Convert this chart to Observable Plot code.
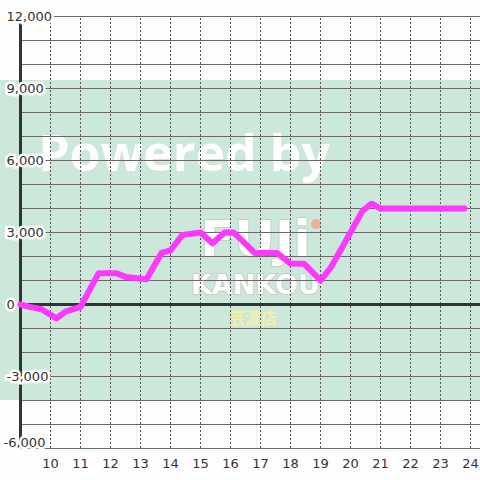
<!DOCTYPE html>
<html><head><meta charset="utf-8">
<script src="https://cdn.jsdelivr.net/npm/d3@7"></script>
<script src="https://cdn.jsdelivr.net/npm/@observablehq/plot@0.6"></script>
<style>body{margin:0;background:#fdfefd;} svg{display:block;}</style>
</head><body><div id="chart"></div>
<script>
const hours = [9.0, 9.3, 9.7, 10.2, 10.5, 11.0, 11.6, 12.2, 12.5, 13.2, 13.7, 14.0, 14.4, 15.0, 15.4, 15.8, 16.1, 16.4, 16.8, 17.55, 18.0, 18.45, 19.0, 19.35, 20.4, 20.7, 21.0, 23.8];
const values = [0, -100, -200, -580, -300, -100, 1300, 1300, 1150, 1050, 2150, 2250, 2900, 3000, 2550, 3000, 3000, 2650, 2150, 2150, 1700, 1700, 1000, 1550, 3900, 4200, 4000, 4000];
const xTicks = [10, 11, 12, 13, 14, 15, 16, 17, 18, 19, 20, 21, 22, 23, 24];
const yGrid = d3.range(-6000, 12001, 1000);
const yTicks = [12000, 9000, 6000, 3000, 0, -3000];
const yTickLabels = ["12,000", "9,000", "6,000", "3,000", "0", "-3,000"];
const yBottomTick = [-6000];
const yBottomLabel = ["-6,000"];
const band = [{x1: 8.333, x2: 24.333, y1: -4000, y2: 9333}];
const wmPowered = [{x: 14.45, y: 6250, text: "Powered by"}];
const wmFuji = [{x: 16.83, y: 2700, text: "FUJi"}];
const wmKankou = [{x: 16.83, y: 780, text: "KANKOU"}];
const wmStore = [{x: 16.75, y: -580, text: "芸濃店"}];
const ball = [{x: 18.85, y: 3350}];

const data = hours.map((h, i) => ({h, v: values[i]}));
const xMin = 9, xMax = 24.333;
const labelStyle = {textAnchor: "start", fontSize: 13, fill: "#333", stroke: "white", strokeWidth: 5, strokeLinejoin: "miter"};

const chart = Plot.plot({
  width: 480, height: 480,
  marginLeft: 20, marginRight: 0, marginTop: 16, marginBottom: 32,
  x: {domain: [xMin, xMax], axis: null},
  y: {domain: [-6000, 12000], axis: null},
  style: {fontFamily: "DejaVu Sans", background: "transparent"},
  marks: [
    Plot.rect(band, {x1: "x1", x2: "x2", y1: "y1", y2: "y2", fill: "#cce8da"}),
    Plot.text(wmPowered, {x: "x", y: "y", text: "text", fontSize: 50, fontWeight: "bold", fontFamily: "Open Sans", fill: "white", fillOpacity: 0.95}),
    Plot.text(wmFuji, {x: "x", y: "y", text: "text", fontSize: 50, fontWeight: "bold", fontFamily: "DejaVu Sans", fill: "white", stroke: "#c3cfca", strokeWidth: 2, paintOrder: "stroke"}),
    Plot.text(wmKankou, {x: "x", y: "y", text: "text", fontSize: 27, fontWeight: "bold", fontFamily: "DejaVu Sans", fill: "white", stroke: "#c3cfca", strokeWidth: 2, paintOrder: "stroke"}),
    Plot.text(wmStore, {x: "x", y: "y", text: "text", fontSize: 16, fontWeight: "bold", fontFamily: "Noto Sans CJK JP", fill: "#f3f0a8"}),
    Plot.dot(ball, {x: "x", y: "y", r: 5, fill: "#f2a486", fillOpacity: 0.8}),
    Plot.ruleY(yGrid, {x1: xMin, x2: xMax, stroke: "#6a6a6a", strokeWidth: 1}),
    Plot.ruleX(xTicks, {y1: -6000, y2: 12000, stroke: "#555", strokeWidth: 1, strokeDasharray: "2,2"}),
    Plot.ruleY([0], {x1: xMin, x2: xMax, stroke: "#333", strokeWidth: 3}),
    Plot.ruleX([xMin], {y1: -6000, y2: 12000, stroke: "#333", strokeWidth: 3}),
    Plot.line(data, {x: "h", y: "v", stroke: "#ff38ff", strokeWidth: 6, strokeLinejoin: "round"}),
    Plot.text(yTicks, {x: xMin, y: d => d, text: (d, i) => yTickLabels[i], dx: -14, ...labelStyle}),
    Plot.text(yBottomTick, {x: xMin, y: d => d, text: (d, i) => yBottomLabel[i], dx: -17, dy: -6, ...labelStyle}),
    Plot.text(xTicks, {x: d => d, y: -6000, text: d => String(d), dy: 15, fontSize: 13, fill: "#333"})
  ]
});
document.getElementById("chart").append(chart);
</script></body></html>
